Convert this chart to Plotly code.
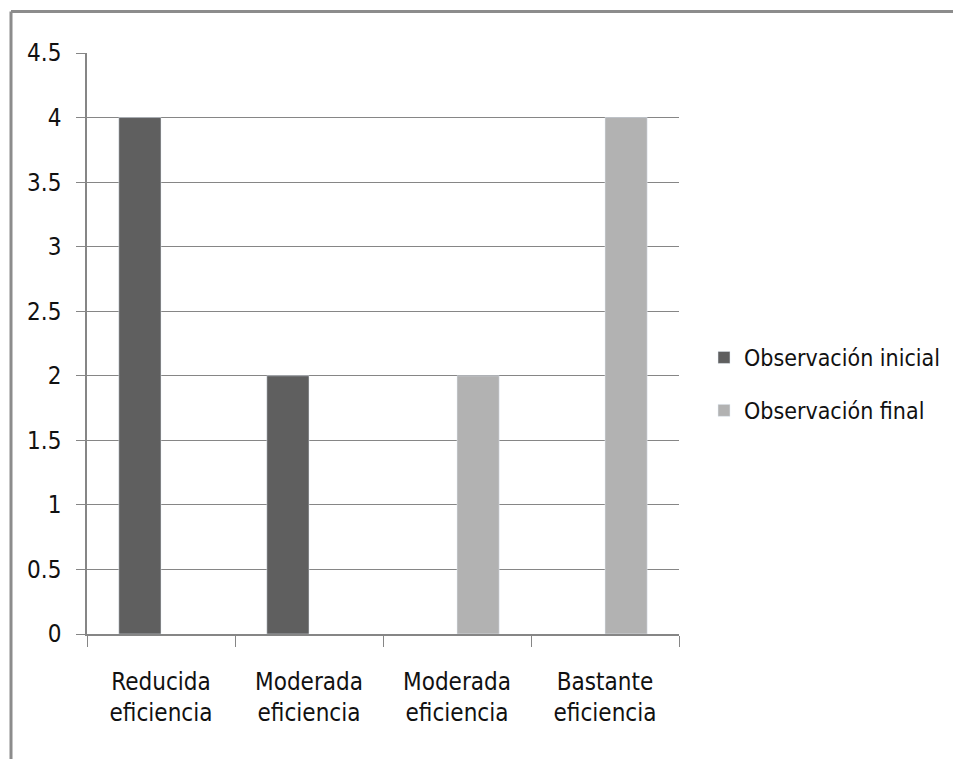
import plotly.graph_objects as go

categories = ["Reducida eficiencia", "Moderada eficiencia ", "Moderada eficiencia", "Bastante eficiencia"]
tick_labels = ["Reducida<br>eficiencia", "Moderada<br>eficiencia", "Moderada<br>eficiencia", "Bastante<br>eficiencia"]
inicial = [4, 2, None, None]
final = [None, None, 2, 4]

FONT = "DejaVu Sans Condensed, Liberation Sans Narrow, sans-serif"

fig = go.Figure()
fig.add_trace(go.Bar(name="Observación inicial", x=categories, y=inicial,
                     marker_color="#5f5f5f", legendgroup="a"))
fig.add_trace(go.Bar(name="Observación final", x=categories, y=final,
                     marker_color="#b2b2b2", legendgroup="b"))

# page body adds an 8px offset; plot area lands at x 87..679, y 53..634 px
def px_x(p):
    return (p - 87) / 592


def px_y(p):
    return (634 - p) / 581


fig.update_layout(
    width=953, height=751,
    margin=dict(l=79, r=282, t=45, b=125),
    paper_bgcolor="white", plot_bgcolor="white",
    barmode="group", bargap=0.43, bargroupgap=0,
    font=dict(family=FONT, size=24, color="#111111"),
    showlegend=True,
    legend=dict(x=px_x(704), y=px_y(384), xanchor="left", yanchor="middle",
                font=dict(size=23), tracegroupgap=20, itemwidth=30),
    xaxis=dict(type="category", tickvals=categories, ticktext=tick_labels,
               tickson="boundaries", ticks="outside", ticklen=11, tickcolor="#868686",
               showline=True, linecolor="#868686", linewidth=1.5,
               showgrid=False, ticklabelstandoff=25, tickangle=0, automargin=False),
    yaxis=dict(range=[0, 4.5], dtick=0.5,
               ticks="outside", ticklen=9, tickcolor="#868686",
               showline=True, linecolor="#868686", linewidth=1.5,
               showgrid=True, gridcolor="#868686", gridwidth=1.2,
               zeroline=False, ticklabelstandoff=10, automargin=False),
    shapes=[
        dict(type="line", xref="paper", yref="paper",
             x0=px_x(11), x1=px_x(965), y0=px_y(11.5), y1=px_y(11.5),
             line=dict(color="#8c8c8c", width=3)),
        dict(type="line", xref="paper", yref="paper",
             x0=px_x(11), x1=px_x(11), y0=px_y(11.5), y1=px_y(765),
             line=dict(color="#8c8c8c", width=3)),
    ],
)

fig.write_html("out.html")
